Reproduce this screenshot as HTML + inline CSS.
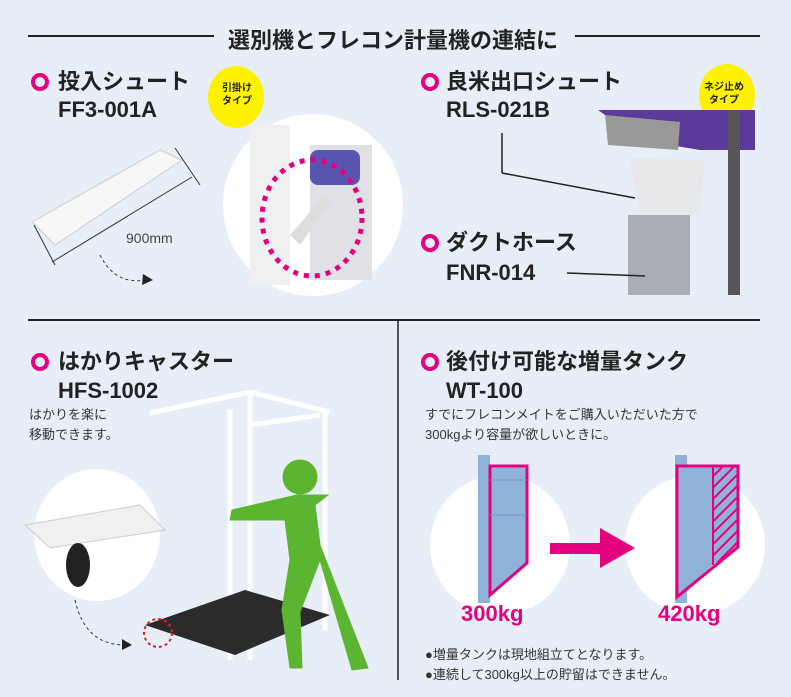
<!DOCTYPE html>
<html><head><meta charset="utf-8"><style>
body{margin:0;width:791px;height:697px;background:#e8eef8;position:relative;overflow:hidden;font-family:"Liberation Sans","Noto Sans CJK JP",sans-serif;color:#222}
.a{position:absolute;white-space:nowrap}
.h{font-weight:bold;font-size:22px;line-height:24px}
.s{font-size:13px;line-height:20px;color:#333}
</style></head><body>
<svg class="a" style="left:0;top:0" width="791" height="697">
<defs><pattern id="hp" width="8" height="8" patternUnits="userSpaceOnUse" patternTransform="rotate(-45)"><rect width="8" height="8" fill="#8fb3d8"/><rect width="8" height="2" fill="#e5007f"/></pattern></defs>
<line x1="28" y1="36" x2="214" y2="36" stroke="#222" stroke-width="2"/>
<line x1="575" y1="36" x2="760" y2="36" stroke="#222" stroke-width="2"/>
<line x1="28" y1="320" x2="760" y2="320" stroke="#222" stroke-width="2"/>
<line x1="398" y1="320" x2="398" y2="680" stroke="#222" stroke-width="1.5"/>
<g fill="none" stroke="#e5007f" stroke-width="4">
<circle cx="40" cy="82" r="7"/><circle cx="430" cy="82" r="7"/><circle cx="430" cy="243" r="7"/><circle cx="40" cy="362" r="7"/><circle cx="430" cy="362" r="7"/></g>
<ellipse cx="236" cy="97" rx="28" ry="31" fill="#fff200"/>
<ellipse cx="727" cy="95" rx="28" ry="31" fill="#fff200"/>
<polygon points="32,222 160,150 182,160 55,245" fill="#f7f7f7" stroke="#ccc"/>
<line x1="52" y1="262" x2="192" y2="177" stroke="#333" stroke-width="1"/>
<line x1="34" y1="225" x2="55" y2="265" stroke="#333"/><line x1="175" y1="148" x2="200" y2="185" stroke="#333"/>
<path d="M100,255 Q115,285 145,280" fill="none" stroke="#333" stroke-dasharray="3,3"/><polygon points="143,274 153,280 142,285" fill="#222"/>
<ellipse cx="313" cy="205" rx="90" ry="91" fill="#fff"/>
<rect x="250" y="125" width="40" height="160" fill="#eef0f2"/>
<rect x="310" y="145" width="62" height="135" fill="#dfe1e6"/>
<rect x="310" y="150" width="50" height="35" rx="8" fill="#5a55b0"/>
<polygon points="290,235 325,195 332,200 300,245" fill="#ddd"/>
<ellipse cx="312" cy="218" rx="50" ry="58" fill="none" stroke="#e5007f" stroke-width="5" stroke-dasharray="5,6"/>
<polygon points="598,110 755,110 755,150 700,150 640,140" fill="#5b3a9a"/>
<rect x="728" y="110" width="12" height="185" fill="#555"/>
<polygon points="605,115 680,122 678,150 608,145" fill="#999"/>
<polygon points="630,158 705,160 700,215 640,215" fill="#e6e8ea"/>
<rect x="628" y="215" width="62" height="80" fill="#a9adb4"/>
<line x1="502" y1="133" x2="502" y2="173" stroke="#222" stroke-width="1.5"/>
<line x1="502" y1="173" x2="635" y2="198" stroke="#222" stroke-width="1.5"/>
<line x1="567" y1="273" x2="645" y2="276" stroke="#222" stroke-width="1.5"/>
<ellipse cx="97" cy="535" rx="63" ry="66" fill="#fff"/>
<polygon points="25,525 140,505 165,530 50,548" fill="#f0f0f0" stroke="#ccc"/>
<ellipse cx="78" cy="565" rx="12" ry="22" fill="#222"/>
<path d="M75,600 Q85,645 125,645" fill="none" stroke="#333" stroke-dasharray="3,3"/><polygon points="122,639 132,645 122,650" fill="#222"/>
<g stroke="#fff" stroke-width="5" fill="none">
<line x1="150" y1="413" x2="250" y2="392"/><line x1="250" y1="392" x2="330" y2="412"/>
<line x1="230" y1="410" x2="230" y2="660"/><line x1="250" y1="395" x2="250" y2="660"/><line x1="325" y1="412" x2="325" y2="630"/>
<line x1="250" y1="425" x2="320" y2="415"/></g>
<polygon points="145,625 245,590 330,615 235,655" fill="#2b2b2b"/>
<circle cx="158" cy="633" r="14" fill="none" stroke="#d22" stroke-width="2" stroke-dasharray="3,3"/>
<g fill="#5cb531" stroke="#5cb531">
<circle cx="300" cy="477" r="17"/>
<path d="M297,495 L232,510 L230,520 L285,520 L290,560 L282,610 L290,668 L302,668 L300,612 L320,560 L352,670 L368,668 L320,545 L315,505 L328,495 Z"/>
</g>
<circle cx="500" cy="545" r="70" fill="#fff"/>
<circle cx="695" cy="545" r="70" fill="#fff"/>
<rect x="478" y="455" width="12" height="148" fill="#8fb3d8"/>
<rect x="675" y="455" width="12" height="148" fill="#8fb3d8"/>
<polygon points="490,466 527,466 527,563 490,595" fill="#8fb3d8" stroke="#e5007f" stroke-width="3"/>
<line x1="490" y1="515" x2="527" y2="515" stroke="#6f93bb"/><line x1="490" y1="480" x2="527" y2="480" stroke="#6f93bb"/>
<polygon points="713,466 738,466 738,547 713,565" fill="url(#hp)"/>
<polygon points="677,466 713,466 713,565 677,597" fill="#8fb3d8"/>
<polygon points="677,466 738,466 738,547 677,597" fill="none" stroke="#e5007f" stroke-width="3"/>
<line x1="713" y1="466" x2="713" y2="565" stroke="#e5007f" stroke-width="2"/>
<rect x="550" y="543" width="52" height="11" fill="#e5007f"/>
<polygon points="600,528 635,548 600,568" fill="#e5007f"/>
</svg>
<div class="a" style="left:228px;top:23px;font-size:22px;font-weight:bold">選別機とフレコン計量機の連結に</div>
<div class="a h" style="left:58px;top:70px">投入シュート</div>
<div class="a h" style="left:58px;top:98px">FF3-001A</div>
<div class="a" style="left:222px;top:82px;font-size:10px;line-height:13px;font-weight:bold;text-align:center">引掛け<br>タイプ</div>
<div class="a" style="left:126px;top:230px;font-size:14px;color:#444">900mm</div>
<div class="a h" style="left:446px;top:70px">良米出口シュート</div>
<div class="a h" style="left:446px;top:98px">RLS-021B</div>
<div class="a" style="left:704px;top:81px;font-size:10px;line-height:13px;font-weight:bold;text-align:center">ネジ止め<br>タイプ</div>
<div class="a h" style="left:446px;top:231px">ダクトホース</div>
<div class="a h" style="left:446px;top:261px">FNR-014</div>
<div class="a h" style="left:58px;top:350px">はかりキャスター</div>
<div class="a h" style="left:58px;top:379px">HFS-1002</div>
<div class="a s" style="left:29px;top:405px">はかりを楽に<br>移動できます。</div>
<div class="a h" style="left:446px;top:350px">後付け可能な増量タンク</div>
<div class="a h" style="left:446px;top:379px">WT-100</div>
<div class="a s" style="left:425px;top:405px">すでにフレコンメイトをご購入いただいた方で<br>300kgより容量が欲しいときに。</div>
<div class="a" style="left:461px;top:601px;font-size:22px;font-weight:bold;color:#e5007f">300kg</div>
<div class="a" style="left:658px;top:601px;font-size:22px;font-weight:bold;color:#e5007f">420kg</div>
<div class="a s" style="left:425px;top:645px">●増量タンクは現地組立てとなります。<br>●連続して300kg以上の貯留はできません。</div>
</body></html>
